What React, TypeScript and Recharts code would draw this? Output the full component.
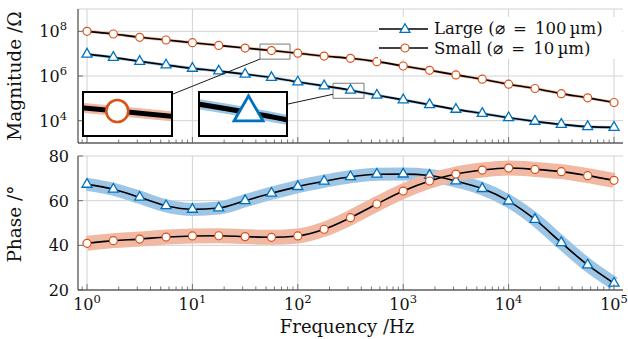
import React from "react";
import { LineChart, Line, XAxis, YAxis, CartesianGrid, ReferenceLine, ReferenceArea } from "recharts";

// frequency sweep, quarter decade steps
const FREQ = [1, 1.778, 3.162, 5.623, 10, 17.78, 31.62, 56.23, 100, 177.8, 316.2, 562.3, 1000, 1778, 3162, 5623, 10000, 17783, 31623, 56234, 100000];
const MAG_LARGE = [9.5e6, 6.8e6, 4.5e6, 3.1e6, 2.2e6, 1.66e6, 1.2e6, 8.5e5, 5.4e5, 3.6e5, 2.3e5, 1.38e5, 8.5e4, 5.2e4, 3.2e4, 2.1e4, 1.35e4, 9.3e3, 6.8e3, 5.4e3, 5.0e3];
const MAG_SMALL = [1.0e8, 7.6e7, 5.4e7, 4.1e7, 3.1e7, 2.35e7, 1.78e7, 1.38e7, 1.05e7, 7.8e6, 6.2e6, 4.4e6, 2.8e6, 1.8e6, 1.12e6, 7.2e5, 4.3e5, 2.75e5, 1.62e5, 1.05e5, 6.5e4];
const PHASE_LARGE = [67.3, 65.1, 61.5, 57.7, 56.1, 56.7, 60.0, 63.3, 66.3, 68.7, 70.7, 71.8, 71.9, 71.3, 68.8, 65.4, 59.8, 51.6, 41.2, 31.2, 23.0];
const PHASE_SMALL = [40.9, 42.1, 42.8, 43.7, 44.2, 44.3, 43.9, 43.6, 44.2, 47.2, 52.4, 58.5, 64.3, 68.8, 71.9, 73.7, 74.6, 74.0, 73.0, 71.2, 69.1];

const X_MAJOR = [1, 10, 100, 1000, 10000, 100000];
const X_EXP = ["0", "1", "2", "3", "4", "5"];
const X_MINOR = [
  0.9, 2, 3, 4, 5, 6, 7, 8, 9, 20, 30, 40, 50, 60, 70, 80, 90,
  200, 300, 400, 500, 600, 700, 800, 900, 2000, 3000, 4000, 5000, 6000, 7000, 8000, 9000,
  20000, 30000, 40000, 50000, 60000, 70000, 80000, 90000,
];
const MAG_TICKS = [1e4, 1e6, 1e8];
const MAG_EXP = ["4", "6", "8"];
const PHASE_TICKS = [20, 40, 60, 80];

const LEGEND_LABELS = ["Large (\u2300\u2002=\u2002100\u2009µm)", "Small (\u2300\u2002=\u200210\u2009µm)"];

const X_MIN = 0.8215;
const X_MAX = 121700;
const MAG_DOMAIN = [1e3, 1e9];
const PHASE_DOMAIN = [20, 80];

// zoomed windows shown in the insets
const ZOOM_SMALL = { x1: 43.75, x2: 84.3, y1: 5.69e6, y2: 2.69e7 };
const ZOOM_LARGE = { x1: 215.8, x2: 424.6, y1: 1.005e5, y2: 4.74e5 };

const ROWS = FREQ.map((f, i) => ({
  f,
  magL: MAG_LARGE[i],
  magS: MAG_SMALL[i],
  phL: PHASE_LARGE[i],
  phS: PHASE_SMALL[i],
}));

const FONT = '"DejaVu Serif", serif';
const BLUE = "#0072BD";
const ORANGE = "#D95319";
const BAND_BLUE = "#9dc6e6";
const BAND_ORANGE = "#f1b9a3";
const GRID = "#d2d2d2";
const FRAME = "#222";
const TICK = "#555";

const PLOT_L = 78;
const PLOT_R = 623;
const TOP_T = 9;
const TOP_B = 143;

const lx = (v: number) =>
  PLOT_L + ((Math.log10(v) - Math.log10(X_MIN)) / (Math.log10(X_MAX) - Math.log10(X_MIN))) * (PLOT_R - PLOT_L);
const ly = (v: number) =>
  TOP_B - ((Math.log10(v) - Math.log10(MAG_DOMAIN[0])) / (Math.log10(MAG_DOMAIN[1]) - Math.log10(MAG_DOMAIN[0]))) * (TOP_B - TOP_T);

function Tri({ cx, cy, size, sw }: any) {
  const h = size * 0.866;
  return (
    <path
      d={`M${cx},${cy - (h * 2) / 3}L${cx + size / 2},${cy + h / 3}L${cx - size / 2},${cy + h / 3}Z`}
      fill="#fff"
      stroke={BLUE}
      strokeWidth={sw}
    />
  );
}

function XTick({ x, y, payload, dir, label }: any) {
  const v = payload.value;
  const mi = X_MAJOR.indexOf(v);
  const len = mi >= 0 ? 6 : 3.5;
  return (
    <g>
      <line x1={x} x2={x} y1={y} y2={y + dir * len} stroke={TICK} strokeWidth={0.8} />
      {label && mi >= 0 && (
        <text x={x} y={y + 20} textAnchor="middle" fontFamily={FONT} fontSize={16} fill="#111">
          10<tspan dy={-7} fontSize={11.5}>{X_EXP[mi]}</tspan>
        </text>
      )}
    </g>
  );
}

function MagTick({ x, y, payload, dir, label }: any) {
  const i = MAG_TICKS.indexOf(payload.value);
  return (
    <g>
      <line x1={x} x2={x + dir * 5} y1={y} y2={y} stroke={TICK} strokeWidth={0.8} />
      {label && (
        <text x={x - 11} y={y + 6} textAnchor="end" fontFamily={FONT} fontSize={16} fill="#111">
          10<tspan dy={-7} fontSize={11.5}>{MAG_EXP[i]}</tspan>
        </text>
      )}
    </g>
  );
}

function PhaseTick({ x, y, payload, dir, label }: any) {
  return (
    <g>
      <line x1={x} x2={x + dir * 5} y1={y} y2={y} stroke={TICK} strokeWidth={0.8} />
      {label && (
        <text x={x - 9} y={y + 6} textAnchor="end" fontFamily={FONT} fontSize={16} fill="#111">
          {payload.value}
        </text>
      )}
    </g>
  );
}

const xAxes = (h: number) => [
  <XAxis
    key="xb"
    dataKey="f"
    type="number"
    scale="log"
    domain={[X_MIN, X_MAX]}
    allowDataOverflow
    ticks={[...X_MAJOR, ...X_MINOR]}
    interval={0}
    height={h}
    tickSize={0}
    tickMargin={0}
    tickLine={false}
    axisLine={{ stroke: FRAME }}
    tick={(p: any) => <XTick {...p} dir={-1} label={h > 10} />}
  />,
  <XAxis
    key="xt"
    xAxisId="top"
    orientation="top"
    dataKey="f"
    type="number"
    scale="log"
    domain={[X_MIN, X_MAX]}
    allowDataOverflow
    ticks={[...X_MAJOR, ...X_MINOR]}
    interval={0}
    height={0}
    tickSize={0}
    tickMargin={0}
    tickLine={false}
    axisLine={{ stroke: FRAME }}
    tick={(p: any) => <XTick {...p} dir={1} label={false} />}
  />,
];

const triDot = (size: number, sw: number) => (p: any) => <Tri key={`t${p.index}`} cx={p.cx} cy={p.cy} size={size} sw={sw} />;

function Inset({ left, top, w, h, zoom, dataKey, band, circle }: any) {
  return (
    <div
      style={{
        position: "absolute",
        left,
        top,
        width: w,
        height: h,
        border: "2px solid #000",
        boxSizing: "border-box",
        background: "#fff",
        overflow: "hidden",
      }}
    >
      <LineChart width={w - 4} height={h - 4} data={ROWS} margin={{ top: 0, right: 0, bottom: 0, left: 0 }}>
        <XAxis dataKey="f" type="number" scale="log" domain={[zoom.x1, zoom.x2]} allowDataOverflow hide />
        <YAxis type="number" scale="log" domain={[zoom.y1, zoom.y2]} allowDataOverflow hide />
        <Line dataKey={dataKey} type="monotone" stroke={band} strokeWidth={10} dot={false} isAnimationActive={false} />
        <Line
          dataKey={dataKey}
          type="monotone"
          stroke="#000"
          strokeWidth={5}
          isAnimationActive={false}
          dot={circle ? { r: 11, fill: "#fff", stroke: ORANGE, strokeWidth: 2.6 } : triDot(29, 2.8)}
        />
      </LineChart>
    </div>
  );
}

export default function App() {
  return (
    <div style={{ position: "absolute", left: 0, top: 0, width: 628, height: 339, background: "#fff" }}>
      <div style={{ position: "absolute", left: 0, top: 0 }}>
        <LineChart width={628} height={150} data={ROWS} margin={{ top: TOP_T, right: 628 - PLOT_R, bottom: 0, left: 0 }}>
          <CartesianGrid vertical={false} stroke={GRID} />
          {X_MAJOR.map((v) => (
            <ReferenceLine key={v} x={v} stroke={GRID} />
          ))}
          {xAxes(7)}
          <YAxis
            type="number"
            scale="log"
            domain={MAG_DOMAIN}
            allowDataOverflow
            ticks={MAG_TICKS}
            interval={0}
            width={PLOT_L}
            tickSize={0}
            tickMargin={0}
            tickLine={false}
            axisLine={{ stroke: FRAME }}
            tick={(p: any) => <MagTick {...p} dir={1} label />}
          />
          <YAxis
            yAxisId="right"
            orientation="right"
            type="number"
            scale="log"
            domain={MAG_DOMAIN}
            allowDataOverflow
            ticks={MAG_TICKS}
            interval={0}
            width={0}
            tickSize={0}
            tickMargin={0}
            tickLine={false}
            axisLine={{ stroke: FRAME }}
            tick={(p: any) => <MagTick {...p} dir={-1} label={false} />}
          />
          <ReferenceArea {...ZOOM_SMALL} fill="none" stroke="#7a7a7a" strokeWidth={1} />
          <ReferenceArea {...ZOOM_LARGE} fill="none" stroke="#7a7a7a" strokeWidth={1} />
          <Line dataKey="magL" type="monotone" stroke={BAND_BLUE} strokeWidth={3} dot={false} isAnimationActive={false} />
          <Line dataKey="magS" type="monotone" stroke={BAND_ORANGE} strokeWidth={3} dot={false} isAnimationActive={false} />
          <Line dataKey="magL" type="monotone" stroke="#000" strokeWidth={1.6} dot={triDot(10, 1.3)} isAnimationActive={false} />
          <Line
            dataKey="magS"
            type="monotone"
            stroke="#000"
            strokeWidth={1.6}
            dot={{ r: 4, fill: "#fff", stroke: ORANGE, strokeWidth: 1.2 }}
            isAnimationActive={false}
          />
        </LineChart>
      </div>

      <div style={{ position: "absolute", left: 0, top: 145 }}>
        <LineChart width={628} height={194} data={ROWS} margin={{ top: 11, right: 628 - PLOT_R, bottom: 0, left: 0 }}>
          <CartesianGrid vertical={false} stroke={GRID} />
          {X_MAJOR.map((v) => (
            <ReferenceLine key={v} x={v} stroke={GRID} />
          ))}
          {xAxes(49)}
          <YAxis
            type="number"
            domain={PHASE_DOMAIN}
            allowDataOverflow
            ticks={PHASE_TICKS}
            interval={0}
            width={PLOT_L}
            tickSize={0}
            tickMargin={0}
            tickLine={false}
            axisLine={{ stroke: FRAME }}
            tick={(p: any) => <PhaseTick {...p} dir={1} label />}
          />
          <YAxis
            yAxisId="right"
            orientation="right"
            type="number"
            domain={PHASE_DOMAIN}
            allowDataOverflow
            ticks={PHASE_TICKS}
            interval={0}
            width={0}
            tickSize={0}
            tickMargin={0}
            tickLine={false}
            axisLine={{ stroke: FRAME }}
            tick={(p: any) => <PhaseTick {...p} dir={-1} label={false} />}
          />
          <Line dataKey="phL" type="monotone" stroke={BAND_BLUE} strokeWidth={13} dot={false} isAnimationActive={false} />
          <Line dataKey="phS" type="monotone" stroke={BAND_ORANGE} strokeWidth={15} dot={false} isAnimationActive={false} />
          <Line dataKey="phL" type="monotone" stroke="#000" strokeWidth={1.6} dot={triDot(10, 1.3)} isAnimationActive={false} />
          <Line
            dataKey="phS"
            type="monotone"
            stroke="#000"
            strokeWidth={1.6}
            dot={{ r: 4, fill: "#fff", stroke: ORANGE, strokeWidth: 1.2 }}
            isAnimationActive={false}
          />
        </LineChart>
      </div>

      <svg width={628} height={339} style={{ position: "absolute", left: 0, top: 0, pointerEvents: "none" }}>
        <line x1={173} y1={94} x2={lx(ZOOM_SMALL.x1)} y2={ly(ZOOM_SMALL.y1)} stroke="#000" strokeWidth={0.9} />
        <line x1={288} y1={104} x2={lx(ZOOM_LARGE.x1)} y2={ly(ZOOM_LARGE.y1) - 4} stroke="#000" strokeWidth={0.9} />
        <text transform="translate(21,76) rotate(-90)" textAnchor="middle" fontFamily={FONT} fontSize={18.5} fill="#111">
          Magnitude /Ω
        </text>
        <text transform="translate(21,224) rotate(-90)" textAnchor="middle" fontFamily={FONT} fontSize={18.5} fill="#111">
          Phase /°
        </text>
        <text x={347} y={333} textAnchor="middle" fontFamily={FONT} fontSize={18} fill="#111">
          Frequency /Hz
        </text>
      </svg>

      <Inset left={82} top={91} w={91} h={46} zoom={ZOOM_SMALL} dataKey="magS" band={BAND_ORANGE} circle />
      <Inset left={198} top={91} w={90} h={46} zoom={ZOOM_LARGE} dataKey="magL" band={BAND_BLUE} circle={false} />

      <div
        style={{
          position: "absolute",
          left: 378,
          top: 17,
          width: 244,
          height: 42,
          background: "#fff",
          fontFamily: FONT,
          fontSize: 16.5,
          color: "#111",
        }}
      >
        {LEGEND_LABELS.map((label, i) => (
          <div key={label} style={{ display: "flex", alignItems: "center", height: 19.5, marginTop: i === 0 ? 2 : 0 }}>
            <svg width={52} height={14} style={{ flex: "none" }}>
              <line x1={1} x2={50} y1={7} y2={7} stroke="#000" strokeWidth={1.6} />
              {i === 0 ? (
                <Tri cx={27} cy={7.5} size={10} sw={1.3} />
              ) : (
                <circle cx={27} cy={7} r={4} fill="#fff" stroke={ORANGE} strokeWidth={1.2} />
              )}
            </svg>
            <span style={{ marginLeft: 4, whiteSpace: "nowrap", lineHeight: "19px" }}>{label}</span>
          </div>
        ))}
      </div>
    </div>
  );
}
